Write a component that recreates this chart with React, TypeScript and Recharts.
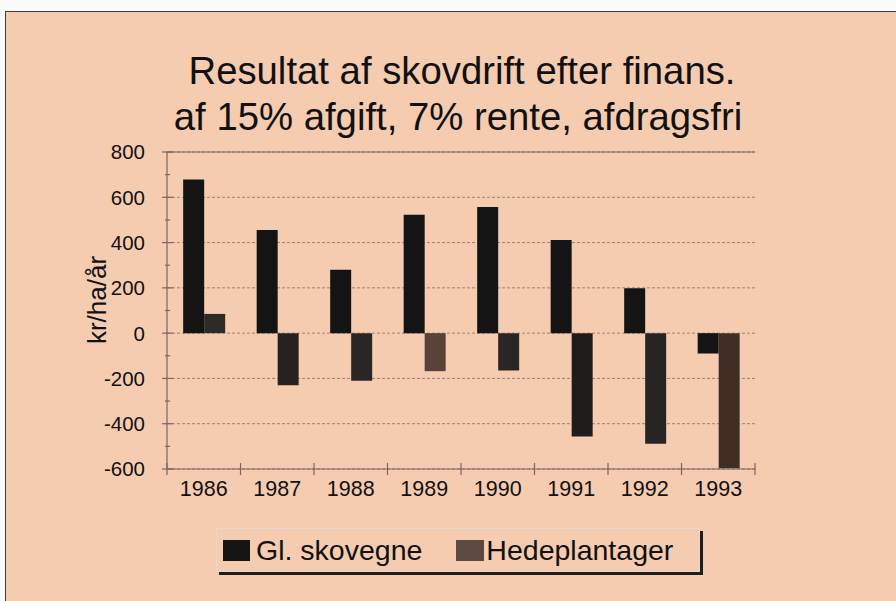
import React from 'react';
import { BarChart, Bar, XAxis, YAxis, CartesianGrid, ReferenceLine, Cell } from 'recharts';

const years = ['1986', '1987', '1988', '1989', '1990', '1991', '1992', '1993'];
const glSkovegne = [678, 455, 280, 523, 557, 411, 198, -90];
const hedeplantager = [85, -230, -210, -168, -165, -456, -489, -597];
const yTicks = [-600, -400, -200, 0, 200, 400, 600, 800];
const yTicksAll = [-600, -500, -400, -300, -200, -100, 0, 100, 200, 300, 400, 500, 600, 700, 800];

const hedeColors = ['#2e2a28', '#27211f', '#2a2624', '#5a4238', '#2a2626', '#1f1c1c', '#282424', '#3f2e24'];
const FONT = '"Liberation Sans", Arial, sans-serif';
const BG = '#f6ccb1';
const AXIS = '#7b6560';

const data = years.map((y, i) => ({ year: y, gl: glSkovegne[i], hede: hedeplantager[i] }));

function XTick(props: any) {
  const { x, y, payload, index } = props;
  const half = payload && payload.offset ? payload.offset : 36.8;
  return (
    <g>
      <line x1={x - half} x2={x - half} y1={y - 6} y2={y + 6} stroke={AXIS} strokeWidth={1.2} />
      {index === years.length - 1 && (
        <line x1={x + half} x2={x + half} y1={y - 6} y2={y + 6} stroke={AXIS} strokeWidth={1.2} />
      )}
      <text x={x} y={y + 27} textAnchor="middle" fontSize={21.5} fontFamily={FONT} fill="#111">
        {payload.value}
      </text>
    </g>
  );
}

function YTick(props: any) {
  const { x, y, payload } = props;
  const major = payload.value % 200 === 0;
  return (
    <g>
      <line x1={major ? x - 5 : x - 2} x2={major ? x + 6 : x + 3} y1={y} y2={y} stroke={AXIS} strokeWidth={1.2} />
      {major && (
        <text x={x - 22} y={y} dy="0.36em" textAnchor="end" fontSize={20.5} fontFamily={FONT} fill="#111">
          {payload.value}
        </text>
      )}
    </g>
  );
}

export default function App() {
  return (
    <div style={{ position: 'fixed', left: 0, top: 0, width: 896, height: 601, background: '#fbfbfb', overflow: 'hidden' }}>
      <div
        style={{
          position: 'absolute',
          left: 5,
          top: 11,
          width: 900,
          height: 600,
          background: BG,
          borderTop: '1.5px solid #3c3c3c',
          borderLeft: '1.5px solid #3c3c3c',
        }}
      />
      <div style={{ position: 'absolute', left: 0, top: 0 }}>
        <BarChart
          width={896}
          height={601}
          data={data}
          margin={{ top: 152, right: 141, bottom: 72, left: 0 }}
          barCategoryGap="22%"
          barGap={0}
        >
          <CartesianGrid vertical={false} horizontalValues={yTicks} stroke="#9c8078" strokeDasharray="3 2" />
          <XAxis
            dataKey="year"
            height={60}
            tickSize={0}
            tickMargin={0}
            tickLine={false}
            axisLine={{ stroke: AXIS, strokeWidth: 1.2 }}
            tick={<XTick />}
            interval={0}
          />
          <YAxis
            width={167}
            domain={[-600, 800]}
            ticks={yTicksAll}
            interval={0}
            tickSize={0}
            tickMargin={0}
            tickLine={false}
            axisLine={{ stroke: AXIS, strokeWidth: 1.2 }}
            tick={<YTick />}
          />
          <YAxis
            yAxisId="r"
            orientation="right"
            width={0}
            domain={[-600, 800]}
            tick={false}
            tickLine={false}
            axisLine={{ stroke: AXIS, strokeWidth: 1.2 }}
          />
          <ReferenceLine y={800} stroke={AXIS} strokeWidth={1.2} />
          <Bar dataKey="gl" name="Gl. skovegne" fill="#141414" isAnimationActive={false} />
          <Bar dataKey="hede" name="Hedeplantager" fill="#5b4a42" isAnimationActive={false}>
            {data.map((d, i) => (
              <Cell key={d.year} fill={hedeColors[i]} />
            ))}
          </Bar>
        </BarChart>
      </div>
      <svg width={896} height={601} style={{ position: 'absolute', left: 0, top: 0, pointerEvents: 'none' }}>
        <text x={462} y={84} textAnchor="middle" fontSize={38.3} fontFamily={FONT} fill="#111">
          Resultat af skovdrift efter finans.
        </text>
        <text x={458} y={130} textAnchor="middle" fontSize={38.3} fontFamily={FONT} fill="#111">
          af 15% afgift, 7% rente, afdragsfri
        </text>
        <text
          x={97}
          y={300}
          textAnchor="middle"
          dominantBaseline="central"
          fontSize={26}
          fontFamily={FONT}
          fill="#111"
          transform="rotate(-90 97 300)"
        >
          kr/ha/år
        </text>
      </svg>
      <div
        style={{
          position: 'absolute',
          left: 216,
          top: 528,
          width: 482,
          height: 42,
          border: '1px solid #e4d8d2',
          boxShadow: '3px 3px 0 #1e1e1e',
          fontFamily: FONT,
          fontSize: 28.5,
          color: '#111',
          display: 'flex',
          alignItems: 'center',
        }}
      >
        <span style={{ display: 'inline-block', width: 27, height: 21, background: '#141414', marginLeft: 6 }} />
        <span style={{ marginLeft: 6 }}>Gl. skovegne</span>
        <span style={{ display: 'inline-block', width: 28, height: 21, background: '#5b4a42', marginLeft: 34 }} />
        <span style={{ marginLeft: 2 }}>Hedeplantager</span>
      </div>
    </div>
  );
}
